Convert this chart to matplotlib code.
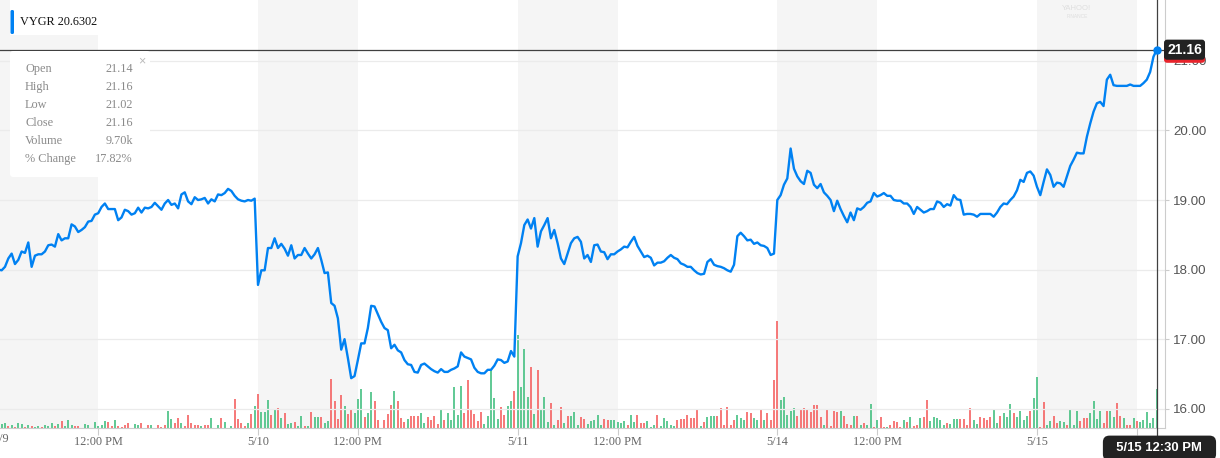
import matplotlib.pyplot as plt
from matplotlib.patches import Rectangle, FancyBboxPatch
import numpy as np

# 5-minute bars, 9:30 - 16:00 -> 78 bars per session
days = ['5/9', '5/10', '5/11', '5/14', '5/15']
bars_per_day = 78
noon_bar = 30

price_0509 = [18.00, 17.99, 18.04, 18.16, 18.23, 18.08, 18.14, 18.26, 18.24, 18.39, 18.04, 18.20, 18.22, 18.22,
              18.26, 18.35, 18.36, 18.33, 18.51, 18.42, 18.45, 18.45, 18.65, 18.62, 18.54, 18.57, 18.61, 18.69,
              18.70, 18.79, 18.81, 18.90, 18.95, 18.87, 18.87, 18.87, 18.71, 18.75, 18.86, 18.84, 18.79, 18.81,
              18.89, 18.82, 18.89, 18.88, 18.90, 18.96, 18.91, 18.86, 18.95, 19.00, 18.93, 18.95, 18.88, 19.08,
              19.11, 18.98, 18.94, 19.04, 19.00, 19.01, 19.03, 18.95, 19.01, 18.98, 19.08, 19.07, 19.10, 19.16,
              19.13, 19.06, 19.01, 18.99, 18.98, 19.00, 18.99, 19.02]
price_0510 = [17.78, 17.99, 17.99, 18.31, 18.31, 18.45, 18.31, 18.37, 18.30, 18.20, 18.35, 18.16, 18.21, 18.21,
              18.31, 18.23, 18.16, 18.22, 18.31, 18.14, 17.95, 17.96, 17.52, 17.48, 17.30, 16.85, 17.00, 16.73,
              16.44, 16.47, 16.70, 16.94, 16.94, 17.16, 17.48, 17.47, 17.36, 17.25, 17.16, 17.13, 16.87, 16.92,
              16.84, 16.81, 16.70, 16.64, 16.63, 16.53, 16.52, 16.63, 16.65, 16.61, 16.57, 16.54, 16.52, 16.57,
              16.53, 16.53, 16.56, 16.58, 16.61, 16.81, 16.75, 16.73, 16.71, 16.59, 16.53, 16.51, 16.51, 16.56,
              16.56, 16.62, 16.71, 16.70, 16.66, 16.68, 16.83, 16.75]
price_0511 = [18.19, 18.38, 18.64, 18.72, 18.59, 18.74, 18.33, 18.55, 18.64, 18.74, 18.45, 18.57, 18.38, 18.16,
              18.08, 18.23, 18.38, 18.45, 18.47, 18.40, 18.16, 18.21, 18.11, 18.35, 18.36, 18.26, 18.25, 18.15,
              18.22, 18.22, 18.26, 18.29, 18.33, 18.32, 18.40, 18.47, 18.34, 18.26, 18.18, 18.20, 18.17, 18.06,
              18.10, 18.10, 18.12, 18.17, 18.21, 18.17, 18.15, 18.09, 18.07, 18.04, 18.04, 17.99, 17.95, 17.93,
              17.94, 18.11, 18.15, 18.07, 18.05, 18.04, 18.02, 17.99, 17.97, 18.07, 18.48, 18.53, 18.48, 18.42,
              18.43, 18.37, 18.39, 18.35, 18.34, 18.31, 18.21, 18.23]
price_0514 = [19.00, 19.07, 19.22, 19.31, 19.74, 19.45, 19.34, 19.27, 19.23, 19.42, 19.39, 19.22, 19.17, 19.23,
              19.11, 19.06, 19.00, 18.84, 18.99, 18.87, 18.77, 18.68, 18.82, 18.71, 18.88, 18.86, 18.90, 18.96,
              18.98, 19.10, 19.05, 19.07, 19.10, 19.06, 19.06, 19.00, 18.99, 18.99, 18.95, 18.95, 18.90, 18.80,
              18.90, 18.86, 18.82, 18.84, 18.87, 18.87, 18.98, 18.96, 18.90, 18.94, 18.92, 19.07, 19.01, 19.00,
              18.79, 18.80, 18.80, 18.79, 18.76, 18.80, 18.80, 18.80, 18.80, 18.76, 18.82, 18.90, 18.95, 18.94,
              19.00, 19.05, 19.14, 19.29, 19.26, 19.39, 19.41, 19.35]
price_0515 = [19.19, 19.07, 19.26, 19.44, 19.36, 19.19, 19.25, 19.24, 19.19, 19.34, 19.49, 19.58, 19.68, 19.67,
              19.67, 19.91, 20.10, 20.27, 20.39, 20.41, 20.35, 20.73, 20.80, 20.65, 20.64, 20.64, 20.64, 20.64,
              20.66, 20.64, 20.64, 20.64, 20.68, 20.73, 20.84, 21.06, 21.16]

# volume in thousands of shares
vol_0509 = [0.5, 1.0, 1.2, 0.4, 0.7, 0.2, 1.2, 1.0, 0.2, 0.7, 0.4, 0.2, 0.4, 0.2, 0.8, 0.4, 1.2, 0.4, 1.0, 1.8,
            0.4, 2.1, 0.8, 0.4, 0.4, 0.1, 1.0, 0.8, 0.1, 1.5, 0.4, 0.7, 1.8, 1.5, 0.4, 2.1, 0.4, 0.2, 0.7, 1.2,
            0.1, 1.0, 0.8, 1.2, 0.1, 0.8, 0.8, 0.1, 0.7, 0.2, 0.7, 4.3, 2.2, 1.2, 2.5, 1.2, 0.4, 3.3, 1.2, 0.8,
            0.7, 0.4, 0.8, 0.7, 2.5, 0.1, 0.7, 2.5, 1.5, 0.1, 0.4, 7.3, 2.2, 1.2, 0.4, 1.2, 3.5, 5.6]
vol_0510 = [8.6, 4.0, 3.9, 7.1, 3.3, 4.8, 5.0, 2.5, 3.8, 1.1, 1.2, 1.4, 0.4, 3.1, 0.4, 0.4, 3.9, 2.8, 2.8, 2.8,
            1.2, 1.7, 12.2, 6.8, 2.2, 8.3, 5.6, 3.6, 4.8, 3.8, 7.2, 9.8, 2.8, 3.8, 8.9, 6.8, 2.1, 0.1, 2.1, 3.5,
            5.8, 9.3, 6.7, 2.5, 1.5, 2.2, 2.9, 3.1, 3.1, 3.8, 1.2, 2.8, 2.1, 3.1, 1.0, 4.8, 2.1, 3.8, 2.1, 10.2,
            3.3, 10.6, 3.8, 12.1, 4.8, 3.5, 1.8, 4.0, 1.0, 3.1, 14.6, 7.5, 2.3, 5.2, 3.3, 5.6, 6.8, 9.3]
vol_0511 = [23.3, 10.2, 19.8, 7.8, 15.2, 3.6, 14.4, 4.8, 7.8, 1.5, 6.2, 0.8, 2.1, 5.2, 1.2, 3.1, 2.9, 4.0, 0.8,
            2.8, 2.3, 1.0, 1.7, 1.9, 3.2, 0.8, 2.3, 2.1, 2.1, 2.1, 1.4, 1.2, 1.7, 0.7, 3.2, 1.5, 3.2, 1.2, 1.2,
            1.7, 0.2, 0.8, 3.2, 0.6, 2.5, 1.7, 0.8, 0.4, 2.1, 2.3, 2.3, 3.2, 2.5, 2.5, 4.8, 0.4, 1.4, 2.8, 2.9,
            3.1, 2.9, 5.0, 0.8, 5.2, 0.8, 2.1, 3.3, 2.5, 2.1, 3.9, 3.8, 2.5, 1.9, 4.8, 1.9, 3.8, 1.9, 12.1]
vol_0514 = [26.8, 7.1, 7.8, 3.3, 4.2, 5.0, 3.1, 4.8, 5.0, 4.8, 4.0, 5.7, 5.8, 2.8, 0.7, 4.8, 0.4, 4.3, 3.9, 4.3,
            3.1, 1.0, 0.8, 3.1, 3.1, 0.8, 1.2, 0.8, 6.1, 0.2, 2.1, 2.8, 0.2, 0.2, 0.7, 1.7, 1.5, 0.2, 2.1, 1.5,
            2.8, 0.4, 0.7, 2.5, 2.8, 7.1, 1.7, 2.8, 2.5, 2.1, 0.7, 1.2, 1.0, 2.2, 2.2, 2.2, 2.2, 0.7, 5.0, 1.9,
            1.0, 2.8, 2.5, 2.1, 2.8, 4.8, 1.2, 3.1, 3.8, 2.8, 6.1, 3.8, 2.8, 4.3, 2.1, 3.1, 4.3, 7.5]
vol_0515 = [12.8, 0.2, 6.5, 0.8, 1.8, 3.1, 1.2, 1.8, 1.4, 0.8, 4.8, 0.8, 4.2, 1.7, 2.5, 2.5, 3.8, 6.7, 2.3, 4.3,
            1.2, 4.3, 4.2, 2.8, 6.2, 3.1, 2.5, 0.8, 0.8, 2.5, 1.7, 1.5, 1.9, 4.0, 1.2, 2.5, 9.7]

# bar direction: g = close above open, r = close below open
dir_0509 = ('g' + 'ggrgrggrgr' + 'ggrgggrgrg' + 'ggrrgggggg' + 'ggrrgrrrrg' + 'ggrgrggrrr'
            + 'ggrrgrrrrr' + 'grrgggrggg' + 'rrrrgrg')
dir_0510 = ('rgggrgrgrg' + 'grggrgrggr' + 'ggrrrrgrrg' + 'ggrggrrgrr' + 'rgrrrgrrr'
            + 'ggrrrrgrgg' + 'gggrrrrrrg' + 'ggggrrggr')
dir_0511 = ('ggggrgrggg' + 'rgrrgrgggr' + 'rgggggrrgg' + 'gggrggrrrg' + 'ggrgggggrr'
            + 'rrrrrgrggg' + 'rrrrrrgggr' + 'rggrgrrr')
dir_0514 = ('rgggggrrrrrrr' + 'rgrrrrgrrr' + 'grgrggrgrr' + 'grrrrgrgrr' + 'grrgggggrgg'
            + 'grrrrggrrr' + 'rggrgggrgg' + 'ggrg')
dir_0515 = 'g' + 'rrggrrggrg' + 'ggrrrggggr' + 'rggrrgrrgr' + 'gggggg'

price_ticks = [16, 17, 18, 19, 20, 21]
ticker_label = 'VYGR 20.6302'
hover_label = '5/15 12:30 PM'
info_rows = [('Open', '21.14'), ('High', '21.16'), ('Low', '21.02'), ('Close', '21.16'),
             ('Volume', '9.70k'), ('% Change', '17.82%')]

price = np.array(price_0509 + price_0510 + price_0511 + price_0514 + price_0515)
volume = np.array(vol_0509 + vol_0510 + vol_0511 + vol_0514 + vol_0515)
up = np.array([c == 'g' for c in dir_0509 + dir_0510 + dir_0511 + dir_0514 + dir_0515])
t = np.arange(len(price))

BLUE = '#0081f2'
GREEN = '#34bb76'
RED = '#f45454'
SERIF = 'Liberation Serif'
SANS = 'Liberation Sans'

fig = plt.figure(figsize=(12.2, 4.58), dpi=100)
rect = [0, 30 / 458, 1165 / 1220, 428 / 458]
ax_vol = fig.add_axes(rect)
ax = fig.add_axes(rect, sharex=ax_vol)
ax.patch.set_visible(False)

# morning half of each session shaded
for d in range(len(days)):
    ax_vol.axvspan(d * bars_per_day, d * bars_per_day + noon_bar, color='#f5f5f5', lw=0, zorder=0)
ax_vol.vlines(t, 0, volume, colors=np.where(up, GREEN, RED), lw=1.1, zorder=2)
ax_vol.set_ylim(0, 107)
ax_vol.set_yticks([])
for s in ax_vol.spines.values():
    s.set_visible(False)
ax_vol.tick_params(axis='x', which='both', length=0, labelbottom=False)

ax.plot(t, price, color=BLUE, lw=1.7, solid_joinstyle='round', zorder=3)
ax.set_xlim(0.5, 350.46)
ax.set_ylim(15.724, 21.874)

ax.set_yticks(price_ticks)
ax.set_yticklabels([f'{p:.2f}' for p in price_ticks])
ax.yaxis.tick_right()
ax.yaxis.grid(True, color='#ebebeb', lw=0.9)
ax.tick_params(axis='y', length=3, color='#cccccc', pad=3, labelsize=9.6, labelcolor='#555555')
for lab in ax.get_yticklabels():
    lab.set_family(SANS)

xt, xl = [], []
for d, day in enumerate(days):
    if d > 0:
        xt.append(d * bars_per_day)
        xl.append(day)
    xt.append(d * bars_per_day + noon_bar)
    xl.append('12:00 PM')
ax.set_xticks(xt)
ax.set_xticklabels(xl)
ax.tick_params(axis='x', length=5, color='#cccccc', pad=1, labelsize=8.8, labelcolor='#666666')
for lab in ax.get_xticklabels():
    lab.set_family(SERIF)
ax.text(0.9, -0.012, days[0], transform=ax.get_xaxis_transform(), ha='center', va='top',
        family=SERIF, fontsize=8.8, color='#666666', clip_on=False)

for side in ['left', 'top']:
    ax.spines[side].set_visible(False)
for side in ['right', 'bottom']:
    ax.spines[side].set_color('#cccccc')

# crosshair on the last bar
ax.axhline(price[-1], color='#404040', lw=0.9, zorder=4)
ax.axvline(t[-1], ymin=-0.025, ymax=1, color='#404040', lw=0.9, zorder=4, clip_on=False)
ax.plot(t[-1], price[-1], 'o', color=BLUE, ms=5, zorder=5, clip_on=False)

ax.annotate(f'{price[-1]:.2f}', xy=(1, price[-1]), xycoords=('axes fraction', 'data'),
            xytext=(1.5, -2.2), textcoords='offset points', ha='left', va='center',
            color='#e8242c', fontsize=10, weight='bold', family=SANS, zorder=5,
            bbox=dict(boxstyle='round,pad=0.22', fc='#e8242c', ec='none'), annotation_clip=False)
ax.annotate(f'{price[-1]:.2f}', xy=(1, price[-1]), xycoords=('axes fraction', 'data'),
            xytext=(1.5, 0), textcoords='offset points', ha='left', va='center',
            color='white', fontsize=10, weight='bold', family=SANS, zorder=6,
            bbox=dict(boxstyle='round,pad=0.22', fc='#222222', ec='none'), annotation_clip=False)
ax.annotate(f'  {hover_label}  ', xy=(t[-1] + 0.8, 0), xycoords=('data', 'axes fraction'),
            xytext=(0, -14.5), textcoords='offset points', ha='center', va='center',
            color='white', fontsize=9.4, weight='bold', family=SANS, zorder=6,
            bbox=dict(boxstyle='round,pad=0.5', fc='#222222', ec='none'), annotation_clip=False)

# overlay in pixel coordinates for the legend and info box
ov = fig.add_axes([0, 0, 1, 1])
ov.set_xlim(0, 1220)
ov.set_ylim(458, 0)
ov.axis('off')
ov.patch.set_visible(False)

ov.add_patch(Rectangle((10, 0), 90, 35, fc='white', ec='none'))
ov.add_patch(FancyBboxPatch((10.5, 10), 3.5, 24, boxstyle='round,pad=0,rounding_size=1.5',
                            fc=BLUE, ec='none'))
ov.text(20, 22, ticker_label, ha='left', va='center', family=SERIF, fontsize=8.8, color='#111111')

ov.add_patch(FancyBboxPatch((10, 51), 140, 126, boxstyle='round,pad=0,rounding_size=3',
                            fc='white', ec='none'))
ov.text(142, 61, '\u00d7', ha='center', va='center', fontsize=9, color='#bbbbbb', family=SANS)
for k, (name, val) in enumerate(info_rows):
    y = 69 + k * 18
    ov.text(25, y, name, ha='left', va='center', family=SERIF, fontsize=8.8, color='#8a8a8a')
    ov.text(133, y, val, ha='right', va='center', family=SERIF, fontsize=8.8, color='#8a8a8a')

ov.text(1077, 9, 'YAHOO!', ha='center', va='center', family=SANS, fontsize=5.5, color='#dedede')
ov.text(1077, 16, 'FINANCE', ha='center', va='center', family=SANS, fontsize=3.5, color='#dedede')

fig.savefig('out.png', dpi=100)
